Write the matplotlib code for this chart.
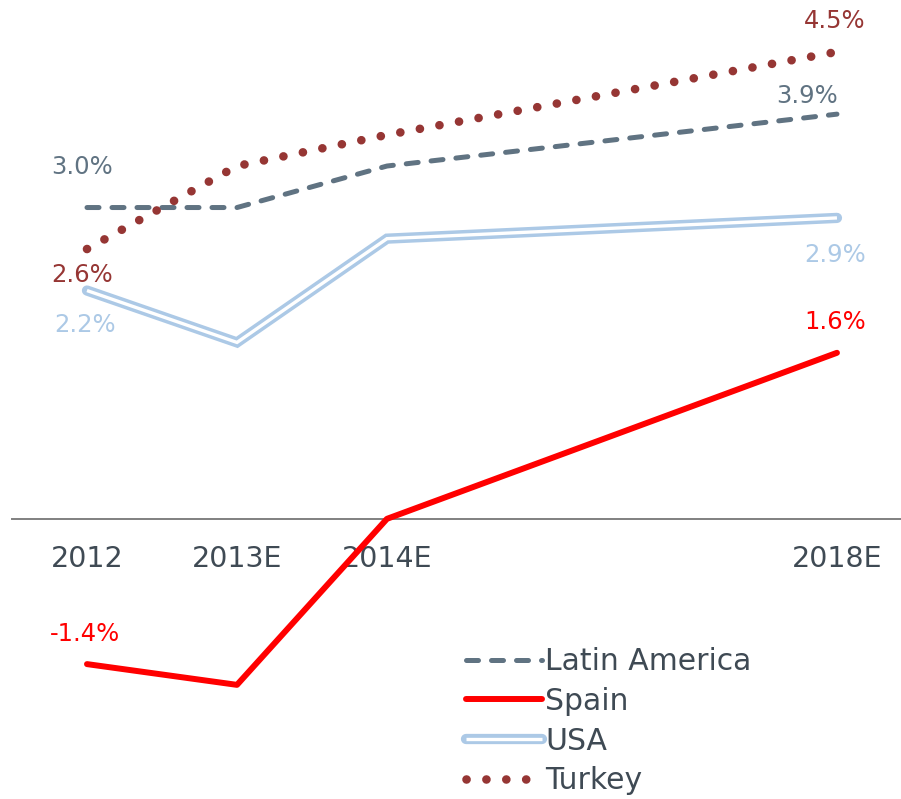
import matplotlib
import matplotlib.pyplot as plt

matplotlib.use('agg')  # headless matplotlib

# periods shown on the x axis (2018E sits three slots after 2014E)
periods = ['2012', '2013E', '2014E', '2018E']
period_slots = [0, 1, 2, 5]

latin_america = [3.0, 3.0, 3.4, 3.9]
spain = [-1.4, -1.6, 0.0, 1.6]
usa = [2.2, 1.7, 2.7, 2.9]
turkey = [2.6, 3.4, 3.7, 4.5]

LATAM_COLOR = '#607382'
SPAIN_COLOR = '#ff0000'
USA_COLOR = '#acc9e6'
TURKEY_COLOR = '#963634'
TEXT_COLOR = '#3f4a54'


def label_ends(ax, values, color, offsets):
    # value labels at first and last point
    for idx, off in zip((0, -1), offsets):
        ax.annotate(f'{values[idx]:.1f}%', (period_slots[idx], values[idx]),
                    xytext=off, textcoords='offset points', ha='center', va='center',
                    fontsize=17.5, color=color)


def main():
    fig = plt.figure(figsize=(9.01, 7.99), dpi=100)
    ax = fig.add_axes([0, 0, 1, 1])

    ax.plot(period_slots, spain, color=SPAIN_COLOR, lw=4.3,
            solid_capstyle='round', solid_joinstyle='round', zorder=3)

    usa_outer, = ax.plot(period_slots, usa, color=USA_COLOR, lw=7.4,
                         solid_capstyle='round', solid_joinstyle='miter', zorder=3)
    usa_inner, = ax.plot(period_slots, usa, color='white', lw=2.4,
                         solid_capstyle='butt', solid_joinstyle='miter', zorder=3.1)

    latam, = ax.plot(period_slots, latin_america, color=LATAM_COLOR, lw=3.6,
                     linestyle=(0, (2.4, 2.6)), dash_capstyle='round', zorder=3.2)
    turk, = ax.plot(period_slots, turkey, color=TURKEY_COLOR, lw=6.2,
                    linestyle=(0, (0.01, 2.3)), dash_capstyle='round', zorder=3.3)
    spain_line = ax.lines[0]

    label_ends(ax, latin_america, LATAM_COLOR, [(-3.6, 29.5), (-21.6, 12.8)])
    label_ends(ax, turkey, TURKEY_COLOR, [(-3.6, -18.7), (-1.4, 22.5)])
    label_ends(ax, usa, USA_COLOR, [(-1.4, -25), (-1.4, -26.6)])
    label_ends(ax, spain, SPAIN_COLOR, [(-1.4, 22), (-1.4, 22)])

    ax.set_xlim(-0.58, 5.427)
    ax.set_ylim(-2.7, 5.0)
    ax.set_axisbelow(True)

    for side in ('top', 'right', 'left'):
        ax.spines[side].set_visible(False)
    ax.spines['bottom'].set_position(('data', 0))
    ax.spines['bottom'].set_bounds(-0.5, 5.5)
    ax.spines['bottom'].set_color('#808080')
    ax.spines['bottom'].set_linewidth(1.4)

    ax.set_yticks([])
    ax.set_xticks(period_slots)
    ax.set_xticklabels(periods)
    ax.tick_params(axis='x', length=0, pad=19, labelsize=20.5, labelcolor=TEXT_COLOR)

    leg = fig.legend([latam, spain_line, (usa_outer, usa_inner), turk],
                     ['Latin America', 'Spain', 'USA', 'Turkey'],
                     loc='upper left', bbox_to_anchor=(0.517, 0.19),
                     bbox_transform=fig.transFigure, frameon=False,
                     fontsize=21.5, handlelength=2.55, handletextpad=0.1,
                     labelspacing=0.36, borderpad=0, borderaxespad=0)
    for t in leg.get_texts():
        t.set_color(TEXT_COLOR)

    fig.savefig('out.png', dpi=100)
    plt.close(fig)


if __name__ == '__main__':
    main()
